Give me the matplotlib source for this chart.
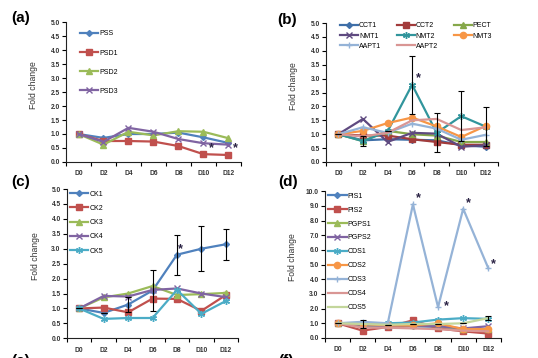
import numpy as np
import matplotlib
matplotlib.use("Agg")
import matplotlib.pyplot as plt

plt.rcParams['font.family'] = ['Liberation Sans', 'DejaVu Sans']

days = ["D0", "D2", "D4", "D6", "D8", "D10", "D12"]

# (a)
a_names = ["PSS", "PSD1", "PSD2", "PSD3"]
a_vals = [
    [1.0, 0.86, 1.0, 1.0, 1.05, 0.88, 0.68],
    [1.0, 0.75, 0.75, 0.73, 0.57, 0.28, 0.25],
    [1.0, 0.62, 1.08, 0.95, 1.1, 1.08, 0.85],
    [1.0, 0.72, 1.22, 1.08, 0.82, 0.67, 0.62],
]

# (b)
b_names = ["CCT1", "CCT2", "PECT", "NMT1", "NMT2", "NMT3", "AAPT1", "AAPT2"]
b_vals = [
    [1.0, 0.78, 0.82, 0.8, 0.78, 0.6, 0.55],
    [1.0, 0.95, 0.95, 0.82, 0.72, 0.62, 0.62],
    [1.0, 0.75, 1.12, 1.0, 0.95, 0.72, 0.72],
    [1.0, 1.55, 0.72, 1.05, 1.02, 0.55, 0.6],
    [1.0, 0.75, 1.1, 2.78, 1.05, 1.65, 1.27],
    [1.0, 1.12, 1.4, 1.6, 1.28, 0.9, 1.3],
    [1.0, 1.25, 1.05, 1.38, 1.2, 0.8, 0.98],
    [1.0, 0.92, 1.05, 1.5, 1.55, 1.15, 1.25],
]
b_err_nmt2 = [0, 0.17, 0, 1.04, 0.7, 0.9, 0.7]

# (c)
c_names = ["CK1", "CK2", "CK3", "CK4", "CK5"]
c_vals = [
    [1.0, 0.85, 1.13, 1.6, 2.8, 3.0, 3.15],
    [1.0, 1.03, 0.87, 1.33, 1.32, 0.92, 1.45],
    [1.0, 1.37, 1.5, 1.75, 1.45, 1.48, 1.52],
    [1.0, 1.42, 1.4, 1.62, 1.67, 1.5, 1.38],
    [1.0, 0.65, 0.68, 0.68, 1.62, 0.82, 1.25],
]
c_err_ck1 = [0, 0, 0.25, 0.68, 0.67, 0.75, 0.52]

# (d)
d_names = ["PIS1", "PIS2", "PGPS1", "PGPS2", "CDS1", "CDS2", "CDS3", "CDS4", "CDS5"]
d_vals = [
    [1.0, 0.8, 0.8, 0.8, 0.75, 0.6, 0.55],
    [1.0, 0.5, 0.75, 1.2, 0.65, 0.45, 0.3],
    [1.0, 0.85, 0.85, 0.85, 0.8, 0.6, 0.6],
    [1.0, 0.9, 0.8, 0.85, 0.8, 0.65, 0.8],
    [1.0, 1.0, 1.0, 1.05, 1.25, 1.35, 1.3],
    [1.0, 0.95, 0.85, 0.85, 1.0, 0.6, 0.6],
    [1.0, 1.1, 1.0, 9.1, 2.1, 8.8, 4.75],
    [1.0, 0.7, 0.7, 0.65, 0.6, 0.5, 0.45],
    [1.0, 0.95, 0.9, 0.95, 0.95, 1.0, 1.35],
]
d_err_cds5 = [0, 0.25, 0, 0, 0, 0, 0.12]

AST = (6, 2, 0)
blue, red, green, purple = "#4F81BD", "#C0504D", "#9BBB59", "#8064A2"
cyan, orange, lblue, pink, lgreen = "#4BACC6", "#F79646", "#95B3D7", "#D99694", "#C3D69B"

a_sty = [(blue, 'D', 3), (red, 's', 4.5), (green, '^', 4.5), (purple, 'x', 4.5)]
b_sty = [("#3F6FA8", 'D', 3), ("#A23B3B", 's', 4.5), ("#86A84A", '^', 4.5),
         ("#5F4A80", 'x', 4.5), ("#31959C", AST, 5), (orange, 'o', 4.5),
         (lblue, '+', 5), (pink, None, 0)]
c_sty = [(blue, 'D', 3), (red, 's', 4.5), (green, '^', 4.5), (purple, 'x', 4.5),
         (cyan, AST, 5)]
d_sty = [(blue, 'D', 3), (red, 's', 4.5), (green, '^', 4.5), (purple, 'x', 4.5),
         (cyan, AST, 5), (orange, 'o', 4.5), (lblue, '+', 5), (pink, None, 0),
         (lgreen, None, 0)]

fig = plt.figure(figsize=(5.38, 3.58), dpi=100)

def panel(rect, names, vals, sty, ymax, ystep):
    ax = fig.add_axes(rect)
    x = np.arange(len(days))
    for n, v, (c, m, ms) in zip(names, vals, sty):
        ax.plot(x, v, color=c, lw=1.6, marker=m, ms=ms, mew=1.0, label=n)
    ax.set_xlim(-0.5, 6.5)
    ax.set_ylim(0, ymax)
    ax.set_yticks(np.arange(0, ymax + 0.01, ystep))
    ax.set_yticklabels(["%.1f" % t for t in np.arange(0, ymax + 0.01, ystep)])
    ax.set_xticks(x)
    ax.set_xticklabels(days)
    ax.set_xticks(np.arange(-0.5, 7, 1), minor=True)
    ax.tick_params(axis='x', which='major', length=0, pad=6, labelsize=4.8)
    ax.tick_params(axis='x', which='minor', length=3, width=0.8, direction='out')
    ax.tick_params(axis='y', length=3, width=0.8, direction='out', pad=1.5, labelsize=4.8)
    for lab in ax.get_xticklabels() + ax.get_yticklabels():
        lab.set_fontweight('bold')
        lab.set_color('#333333')
    for s in ['top', 'right']:
        ax.spines[s].set_visible(False)
    for s in ['left', 'bottom']:
        ax.spines[s].set_linewidth(0.8)
        ax.spines[s].set_color('#222222')
    ax.set_ylabel("Fold change", fontsize=6.2, color='#333333')
    ax.yaxis.set_label_coords(-0.16, 0.55)
    return ax

def stars(ax, pts):
    for (xx, yy) in pts:
        ax.text(xx, yy, "*", fontsize=9, fontweight='bold', color='#2A2244',
                ha='center', va='center')

ax_a = panel([0.1227, 0.5475, 0.325, 0.391], a_names, a_vals, a_sty, 5, 0.5)
ax_a.legend(loc='upper left', bbox_to_anchor=(0.08, 0.94), frameon=False, fontsize=5,
            handlelength=2.6, handletextpad=0.15, labelspacing=1.75, borderpad=0,
            borderaxespad=0)
stars(ax_a, [(5.3, 0.48), (6.3, 0.48)])

ax_b = panel([0.606, 0.5475, 0.32, 0.388], b_names, b_vals, b_sty, 5, 0.5)
ax_b.errorbar(np.arange(7), b_vals[4], yerr=b_err_nmt2, fmt='none', ecolor='black',
              elinewidth=0.8, capsize=2, capthick=0.8)
h, l = ax_b.get_legend_handles_labels()
order = [0, 3, 6, 1, 4, 7, 2, 5]
ax_b.legend([h[i] for i in order], [l[i] for i in order], loc='upper left',
            bbox_to_anchor=(0.08, 1.005), frameon=False, fontsize=5,
            ncol=3, handlelength=2.6, handletextpad=0.15, labelspacing=0.45,
            columnspacing=2.25, borderpad=0, borderaxespad=0)
stars(ax_b, [(3.27, 3.0)])

ax_c = panel([0.1245, 0.055, 0.318, 0.417], c_names, c_vals, c_sty, 5, 0.5)
ax_c.errorbar(np.arange(7), c_vals[0], yerr=c_err_ck1, fmt='none', ecolor='black',
              elinewidth=0.8, capsize=2, capthick=0.8)
ax_c.legend(loc='upper left', bbox_to_anchor=(0.02, 0.99), frameon=False, fontsize=5,
            handlelength=2.6, handletextpad=0.15, labelspacing=1.05, borderpad=0,
            borderaxespad=0)
stars(ax_c, [(4.13, 3.0)])

ax_d = panel([0.604, 0.056, 0.327, 0.41], d_names, d_vals, d_sty, 10, 1.0)
ax_d.errorbar(np.arange(7), d_vals[8], yerr=d_err_cds5, fmt='none', ecolor='black',
              elinewidth=0.8, capsize=2, capthick=0.8)
ax_d.legend(loc='upper left', bbox_to_anchor=(0.02, 0.99), frameon=False, fontsize=5,
            handlelength=2.6, handletextpad=0.15, labelspacing=1.0, borderpad=0,
            borderaxespad=0)
stars(ax_d, [(3.2, 9.5), (4.33, 2.15), (5.2, 9.2), (6.2, 5.0)])

for lab, xx, yy in [("(a)", 0.02, 0.97), ("(b)", 0.516, 0.965),
                    ("(c)", 0.02, 0.51), ("(d)", 0.518, 0.51),
                    ("(e)", 0.02, 0.012), ("(f)", 0.518, 0.012)]:
    fig.text(xx, yy, lab, fontsize=11, fontweight='bold', va='top', ha='left')

fig.savefig("out.png", dpi=100)
